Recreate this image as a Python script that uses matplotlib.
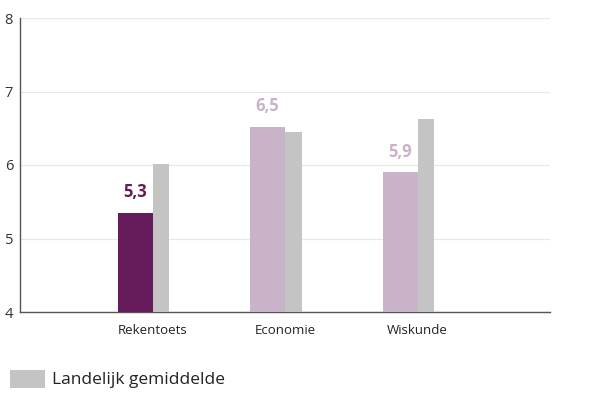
import matplotlib
matplotlib.use("Agg")
import matplotlib.pyplot as plt
from matplotlib.patches import Rectangle

categories = ["Rekentoets", "Economie", "Wiskunde"]
school = [5.35, 6.52, 5.9]
landelijk = [6.01, 6.45, 6.63]
labels = ["5,3", "6,5", "5,9"]
yticks = [4, 5, 6, 7, 8]
legend_label = "Landelijk gemiddelde"

dark = "#661c5a"
light = "#c8b3c9"
grey = "#c4c4c4"
bar_colors = [dark, light, light]
label_colors = [dark, light, light]

plt.rcParams['font.family'] = ['Open Sans', 'DejaVu Sans']

fig = plt.figure(figsize=(6.08, 4.12), dpi=100)
ax = fig.add_axes([20/608, 1-312/412, 530/608, (312-18)/412])

x = list(range(len(categories)))
w1, w2 = 0.263, 0.128
ax.bar(x, [v - 4 for v in school], bottom=4, width=-w1, align='edge', color=bar_colors, zorder=3)
ax.bar(x, [v - 4 for v in landelijk], bottom=4, width=w2, align='edge', color=grey, zorder=3)
for xi, v, lab, c in zip(x, school, labels, label_colors):
    ax.text(xi - w1/2, v + 0.16, lab, ha='center', va='bottom', fontsize=12,
            fontweight='bold', color=c)

ax.set_xlim(-1, 3)
ax.set_ylim(4, 8)
ax.set_yticks(yticks)
ax.set_xticks(x)
ax.set_xticklabels(categories, fontsize=9.5, color="#222222")
ax.tick_params(axis='both', length=0)
ax.tick_params(axis='y', pad=5, labelsize=10.5, labelcolor="#333333")
ax.tick_params(axis='x', pad=9)
ax.grid(axis='y', color="#e8e8e8", linewidth=0.9, zorder=0)
for s in ['top', 'right']:
    ax.spines[s].set_visible(False)
ax.spines['left'].set_color("#555555")
ax.spines['bottom'].set_color("#555555")
ax.spines['left'].set_linewidth(1.0)
ax.spines['bottom'].set_linewidth(1.0)

fig.patches.append(Rectangle((10/608, 1-388/412), 35/608, 18/412, transform=fig.transFigure,
                             facecolor=grey, edgecolor='none'))
fig.text(52/608, 1-380/412, legend_label, fontsize=12.5, va='center', ha='left', color="#222222")

fig.savefig("out.png", dpi=100)
